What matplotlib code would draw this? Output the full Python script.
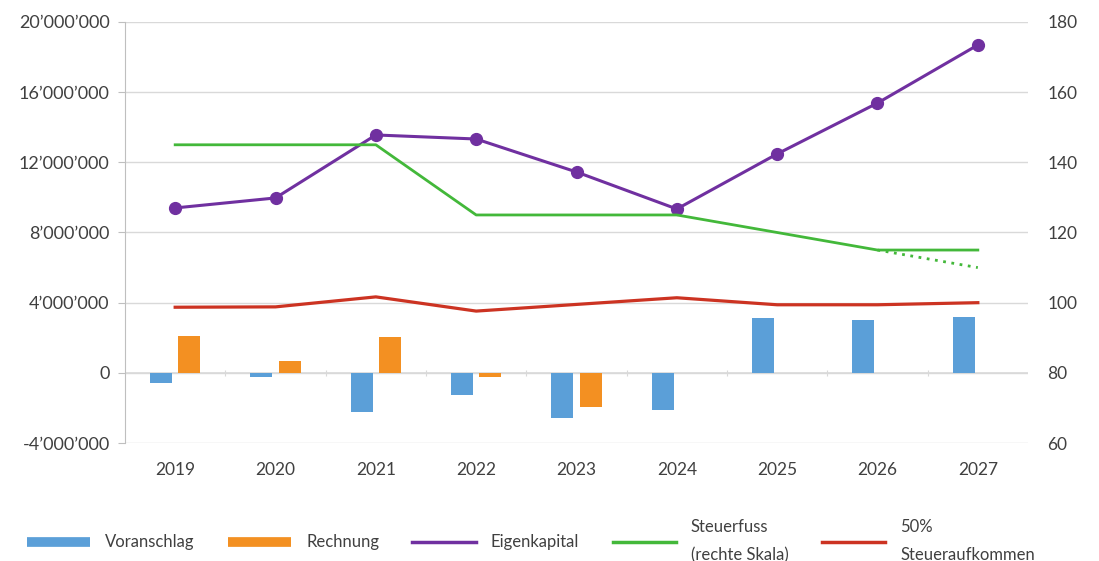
import numpy as np
import matplotlib
matplotlib.use("Agg")
import matplotlib.pyplot as plt
from matplotlib.lines import Line2D
from matplotlib.ticker import FuncFormatter, MultipleLocator, FixedLocator

plt.rcParams['font.family'] = ['Lato', 'DejaVu Sans']

# ================= Daten =================
years = ['2019', '2020', '2021', '2022', '2023', '2024', '2025', '2026', '2027']
voranschlag = [-0.59e6, -0.22e6, -2.26e6, -1.24e6, -2.55e6, -2.11e6, 3.12e6, 3.02e6, 3.21e6]
rechnung = [2.10e6, 0.70e6, 2.03e6, -0.25e6, -1.92e6]           # nur 2019-2023
eigenkapital = [9.40e6, 9.97e6, 13.56e6, 13.33e6, 11.45e6, 9.34e6, 12.48e6, 15.38e6, 18.69e6]
steuerfuss = [145, 145, 145, 125, 125, 125, 120, 115, 115]       # rechte Skala
steuerfuss_var = [115, 110]                                      # 2026 -> 2027 gepunktet
steueraufkommen_50 = [3.74e6, 3.76e6, 4.33e6, 3.52e6, 3.90e6, 4.28e6, 3.88e6, 3.88e6, 4.00e6]

c_blue = '#5B9FD8'
c_orange = '#F39022'
c_purple = '#7030A0'
c_green = '#43B83A'
c_red = '#CC3322'
c_text = '#404040'
c_grid = '#D9D9D9'

x = np.arange(len(years))

fig = plt.figure(figsize=(10.99, 5.61), dpi=100)
ax = fig.add_axes([125 / 1099, 1 - 443 / 561, (1028 - 125) / 1099, (443 - 22) / 561])
ax2 = ax.twinx()

# Balken
bw = 0.22
ax.bar(x - 0.14, voranschlag, width=bw, color=c_blue, zorder=2)
ax.bar(x[:len(rechnung)] + 0.14, rechnung, width=bw, color=c_orange, zorder=2)

# Linien linke Skala
ax.plot(x, steueraufkommen_50, color=c_red, lw=2.3, zorder=3)
ax.plot(x, eigenkapital, color=c_purple, lw=2.2, marker='o', markersize=8.5, zorder=4)

# Steuerfuss rechte Skala
ax2.plot(x, steuerfuss, color=c_green, lw=2.0, zorder=3)
ax2.plot(x[-2:], steuerfuss_var, color=c_green, lw=2.0, linestyle=(0, (1, 2)), zorder=3)

# Achsen
ax.set_xlim(-0.5, len(years) - 0.5)
ax.set_ylim(-4e6, 20e6)
ax2.set_ylim(60, 180)
ax.yaxis.set_major_locator(MultipleLocator(4e6))
ax2.yaxis.set_major_locator(MultipleLocator(20))
ax.yaxis.set_major_formatter(FuncFormatter(lambda v, p: f"{int(round(v)):,}".replace(",", "\u2019")))

ax.grid(axis='y', color=c_grid, lw=1, zorder=0)
ax.set_axisbelow(True)
ax.axhline(0, color=c_grid, lw=1.2, zorder=1)

for a in (ax, ax2):
    for s in ['top', 'right', 'bottom']:
        a.spines[s].set_visible(False)
ax2.spines['left'].set_visible(False)
ax.spines['left'].set_color('#BFBFBF')

ax.set_xticks(x)
ax.set_xticklabels(years)
ax.tick_params(axis='x', length=0, pad=14, labelsize=12.5, colors=c_text)
ax.tick_params(axis='y', length=5, color='#BFBFBF', pad=6, labelsize=13, labelcolor=c_text)
ax2.tick_params(axis='y', length=0, pad=14, labelsize=12.5, labelcolor=c_text)

# kleine Teilstriche auf der Nulllinie
secax = ax.secondary_xaxis(4 / 24)
secax.spines['bottom'].set_visible(False)
secax.xaxis.set_major_locator(FixedLocator(list(x[:-1] + 0.5)))
secax.tick_params(axis='x', length=4, color=c_grid, labelbottom=False, direction='inout')

# Legende
handles = [
    Line2D([], [], color=c_blue, lw=7, solid_capstyle='butt'),
    Line2D([], [], color=c_orange, lw=7, solid_capstyle='butt'),
    Line2D([], [], color=c_purple, lw=2.5),
    Line2D([], [], color=c_green, lw=2.5),
    Line2D([], [], color=c_red, lw=2.5),
]
labels = ['Voranschlag', 'Rechnung', 'Eigenkapital', 'Steuerfuss\n(rechte Skala)', '50%\nSteueraufkommen']
leg = fig.legend(handles, labels, loc='center', bbox_to_anchor=(0.483, 1 - 541 / 561), ncol=5,
                 frameon=False, fontsize=12, handlelength=3.8, handletextpad=0.9, columnspacing=2.0,
                 labelcolor=c_text)
for t in leg.get_texts():
    t.set_multialignment('left')
    t.set_linespacing(1.9)

fig.savefig('out.png', dpi=100)
